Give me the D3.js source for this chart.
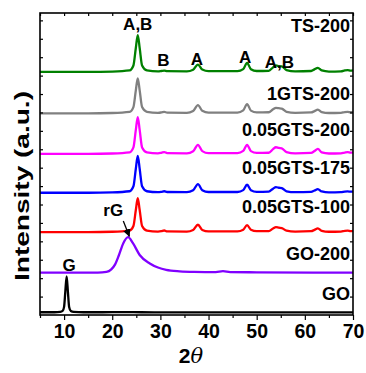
<!DOCTYPE html>
<html>
<head>
<meta charset="utf-8">
<script src="https://cdn.jsdelivr.net/npm/d3@7"></script>
<style>
  html, body { margin: 0; padding: 0; background: #fff; }
  svg { display: block; }
  text { font-family: "Liberation Sans", Arial, sans-serif; font-weight: bold; }
</style>
</head>
<body>
<div id="chart"></div>
<script>
// ---------------- DATA ----------------
const xMajorTicks = [10, 20, 30, 40, 50, 60, 70];
const xMinorTicks = [5, 15, 25, 35, 45, 55, 65];
const yTicks = [1, 2, 3, 4, 5, 6, 7, 8, 9, 10, 11, 12, 13, 14, 15, 16];

const seriesNames = ["GO", "GO-200", "0.05GTS-100", "0.05GTS-175", "0.05GTS-200", "1GTS-200", "TS-200"];
const seriesOffsets = [0.14, 2.3, 4.5, 6.64, 8.75, 10.95, 13.2];

// GO
const goTheta = [5, 8, 9.2, 9.7, 10.0, 10.25, 10.53, 10.8, 11.05, 11.4, 12, 14, 18, 22, 26, 35, 50, 70];
const goInt   = [0.01, 0.01, 0.03, 0.08, 0.3, 1.1, 1.95, 1.1, 0.3, 0.08, 0.03, 0.01, 0.01, 0.02, 0.01, 0.0, 0.0, 0.0];

// GO-200
const go200Theta = [5, 17, 18.8, 19.8, 20.6, 21.4, 22.3, 23.3, 24.3, 25.7, 27.8, 29.5, 31.2, 34, 37, 41.5, 43, 44.5, 50, 70];
const go200Int   = [0.0, 0.0, 0.04, 0.18, 0.45, 0.96, 1.6, 1.93, 1.6, 0.96, 0.5, 0.28, 0.15, 0.07, 0.04, 0.03, 0.08, 0.03, 0.02, 0.0];

// TiO2-containing samples share the same 2θ sampling
const tiTheta = [5, 15, 20, 23.6, 24.4, 24.9, 25.3, 25.7, 26.2, 27.2, 29.5, 30.2, 30.8, 31.4, 35.5, 36.8, 37.8, 38.7, 40, 46, 47.2, 48.0, 48.8, 50, 52.5, 53.4, 54.0, 54.6, 55.2, 56.2, 58, 61.3, 62.0, 62.7, 63.5, 65, 67.5, 68.3, 68.9, 69.5, 70];
const gts100Int = [0, 0, 0.02, 0.08, 0.33, 1.2, 1.85, 1.2, 0.33, 0.08, 0.03, 0.05, 0.09, 0.04, 0.03, 0.12, 0.4, 0.12, 0.04, 0.04, 0.13, 0.38, 0.13, 0.05, 0.06, 0.2, 0.27, 0.24, 0.22, 0.08, 0.03, 0.05, 0.12, 0.2, 0.07, 0.02, 0.03, 0.07, 0.08, 0.06, 0.07];
const gts175Int = [0, 0, 0.02, 0.08, 0.35, 1.3, 2.0, 1.3, 0.35, 0.08, 0.03, 0.05, 0.08, 0.04, 0.03, 0.13, 0.47, 0.14, 0.04, 0.04, 0.14, 0.44, 0.14, 0.05, 0.06, 0.22, 0.3, 0.27, 0.25, 0.08, 0.03, 0.05, 0.12, 0.2, 0.07, 0.02, 0.03, 0.06, 0.07, 0.06, 0.06];
const gts200Int = [0, 0, 0.02, 0.08, 0.35, 1.3, 2.0, 1.3, 0.35, 0.08, 0.03, 0.06, 0.1, 0.04, 0.03, 0.14, 0.49, 0.15, 0.04, 0.04, 0.16, 0.49, 0.15, 0.05, 0.06, 0.26, 0.36, 0.32, 0.3, 0.1, 0.03, 0.05, 0.15, 0.27, 0.08, 0.02, 0.03, 0.07, 0.09, 0.07, 0.08];
const gts1Int   = [0, 0, 0.02, 0.08, 0.34, 1.25, 1.9, 1.25, 0.34, 0.08, 0.03, 0.05, 0.08, 0.04, 0.03, 0.13, 0.45, 0.14, 0.04, 0.04, 0.16, 0.5, 0.15, 0.05, 0.06, 0.22, 0.3, 0.28, 0.26, 0.08, 0.03, 0.05, 0.12, 0.2, 0.07, 0.02, 0.03, 0.07, 0.08, 0.06, 0.07];
const ts200Int  = [0, 0, 0.02, 0.08, 0.35, 1.3, 2.0, 1.3, 0.35, 0.08, 0.03, 0.05, 0.07, 0.04, 0.03, 0.12, 0.4, 0.13, 0.04, 0.04, 0.15, 0.49, 0.15, 0.05, 0.06, 0.25, 0.36, 0.3, 0.3, 0.1, 0.03, 0.05, 0.14, 0.22, 0.08, 0.02, 0.03, 0.08, 0.1, 0.07, 0.08];

// peak annotations (2θ, level, text)
const peakLabelTheta = [25.3, 30.6, 37.6, 47.6, 54.7];
const peakLabelLevel = [15.5, 13.5, 13.6, 13.7, 13.4];
const peakLabelText  = ["A,B", "B", "A", "A", "A,B"];

// ---------------- STYLE ----------------
const seriesColors = ["#000000", "#8000ff", "#ff0000", "#0000ff", "#ff00ff", "#808080", "#008000"];

// ---------------- CHART ----------------
const W = 366, H = 373;
const L = 40, R = 353, T = 13, B = 315;

const svg = d3.select("#chart").append("svg").attr("width", W).attr("height", H);

const x = d3.scaleLinear().domain([5, 70]).range([L, R]);
const y = d3.scaleLinear().domain([0, 16.4]).range([B, T]);

const seriesData = [
  goTheta.map((t, i) => [t, goInt[i]]),
  go200Theta.map((t, i) => [t, go200Int[i]]),
  tiTheta.map((t, i) => [t, gts100Int[i]]),
  tiTheta.map((t, i) => [t, gts175Int[i]]),
  tiTheta.map((t, i) => [t, gts200Int[i]]),
  tiTheta.map((t, i) => [t, gts1Int[i]]),
  tiTheta.map((t, i) => [t, ts200Int[i]])
];

svg.append("clipPath").attr("id", "clip").append("rect")
  .attr("x", L).attr("y", T).attr("width", R - L).attr("height", B - T);

const g = svg.append("g").attr("clip-path", "url(#clip)");
seriesData.forEach((d, si) => {
  const line = d3.line()
    .x(p => x(p[0]))
    .y(p => y(p[1] + seriesOffsets[si]))
    .curve(d3.curveMonotoneX);
  g.append("path")
    .attr("d", line(d))
    .attr("fill", "none")
    .attr("stroke", seriesColors[si])
    .attr("stroke-width", 2.3)
    .attr("stroke-linejoin", "round");
});

// axes
const axG = svg.append("g");
axG.append("g").attr("transform", `translate(0,${B})`)
  .call(d3.axisBottom(x).tickValues(xMajorTicks).tickSize(5).tickPadding(4).tickFormat(d3.format("d")))
  .call(s => s.select(".domain").remove())
  .call(s => s.selectAll("text").attr("font-size", 19.5).attr("font-family", "Liberation Sans, Arial").attr("font-weight", "bold").attr("fill", "#000"))
  .call(s => s.selectAll("line").attr("stroke-width", 1.2));
axG.append("g").attr("transform", `translate(0,${B})`)
  .call(d3.axisBottom(x).tickValues(xMinorTicks).tickSize(3).tickFormat(""))
  .call(s => s.select(".domain").remove())
  .call(s => s.selectAll("line").attr("stroke-width", 1.2));
axG.append("g").attr("transform", `translate(0,${T})`)
  .call(d3.axisBottom(x).tickValues(xMajorTicks.concat(xMinorTicks)).tickSize(3).tickFormat(""))
  .call(s => s.select(".domain").remove())
  .call(s => s.selectAll("line").attr("stroke-width", 1.2));
axG.append("g").attr("transform", `translate(${L},0)`)
  .call(d3.axisRight(y).tickValues(yTicks).tickSize(3).tickFormat(""))
  .call(s => s.select(".domain").remove())
  .call(s => s.selectAll("line").attr("stroke-width", 1.2));
axG.append("g").attr("transform", `translate(${R},0)`)
  .call(d3.axisLeft(y).tickValues(yTicks).tickSize(3).tickFormat(""))
  .call(s => s.select(".domain").remove())
  .call(s => s.selectAll("line").attr("stroke-width", 1.2));

svg.append("rect").attr("x", L).attr("y", T).attr("width", R - L).attr("height", B - T)
  .attr("fill", "none").attr("stroke", "#000").attr("stroke-width", 1.6);

// series labels
const labelLevels = [0.8, 3.0, 5.55, 7.65, 9.7, 11.7, 15.35];
seriesNames.forEach((n, i) => {
  svg.append("text")
    .attr("x", R - 3).attr("y", y(labelLevels[i]))
    .attr("text-anchor", "end")
    .attr("font-size", 18)
    .attr("fill", "#000")
    .text(n);
});

// peak labels
peakLabelText.forEach((t, i) => {
  svg.append("text")
    .attr("x", x(peakLabelTheta[i])).attr("y", y(peakLabelLevel[i]))
    .attr("text-anchor", "middle")
    .attr("font-size", 17)
    .attr("fill", "#000")
    .text(t);
});

svg.append("text").attr("x", x(11.05)).attr("y", y(2.4)).attr("text-anchor", "middle")
  .attr("font-size", 17).text("G");
svg.append("text").attr("x", x(20.2)).attr("y", y(5.35)).attr("text-anchor", "middle")
  .attr("font-size", 17).text("rG");

svg.append("defs").append("marker")
  .attr("id", "arr").attr("viewBox", "0 0 10 10").attr("refX", 9).attr("refY", 5)
  .attr("markerWidth", 6).attr("markerHeight", 6).attr("orient", "auto")
  .append("path").attr("d", "M0,0 L10,5 L0,10 z").attr("fill", "#000");
svg.append("line")
  .attr("x1", x(22.3)).attr("y1", y(5.1))
  .attr("x2", x(23.55)).attr("y2", y(4.28))
  .attr("stroke", "#000").attr("stroke-width", 1.3)
  .attr("marker-end", "url(#arr)");

// axis titles
svg.append("text")
  .attr("transform", `translate(29,186) rotate(-90)`)
  .attr("text-anchor", "middle")
  .attr("font-size", 21)
  .attr("textLength", 190)
  .attr("lengthAdjust", "spacingAndGlyphs")
  .text("Intensity (a.u.)");

const xt = svg.append("text")
  .attr("x", 191).attr("y", 363)
  .attr("text-anchor", "middle")
  .attr("font-size", 21);
xt.append("tspan").text("2");
xt.append("tspan").attr("font-style", "italic").attr("font-family", "DejaVu Serif, serif").attr("font-weight", "normal").text("θ");
</script>
</body>
</html>
